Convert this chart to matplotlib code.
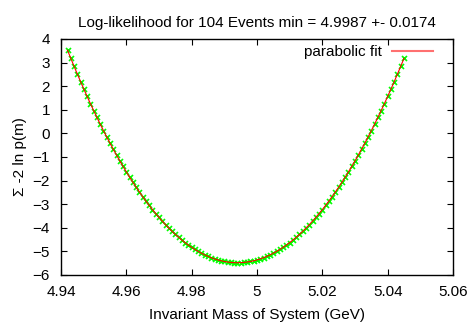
import matplotlib
matplotlib.use("Agg")
import matplotlib.pyplot as plt

mass = [round(4.942 + 0.001 * i, 3) for i in range(104)]
loglik = [3.524, 3.181, 2.845, 2.515, 2.192, 1.876, 1.566, 1.263, 0.967, 0.677,
          0.394, 0.118, -0.152, -0.415, -0.672, -0.921, -1.164, -1.401, -1.630, -1.854,
          -2.070, -2.280, -2.483, -2.679, -2.869, -3.052, -3.229, -3.399, -3.562, -3.718,
          -3.868, -4.011, -4.148, -4.278, -4.401, -4.518, -4.628, -4.731, -4.827, -4.917,
          -5.000, -5.077, -5.147, -5.210, -5.267, -5.317, -5.360, -5.397, -5.427, -5.450,
          -5.467, -5.477, -5.480,
          -5.477, -5.467, -5.450, -5.427, -5.397, -5.360, -5.317, -5.267, -5.210, -5.147,
          -5.077, -5.000, -4.917, -4.827, -4.731, -4.628, -4.518, -4.401, -4.278, -4.148,
          -4.011, -3.868, -3.718, -3.562, -3.399, -3.229, -3.052, -2.869, -2.679, -2.483,
          -2.280, -2.070, -1.854, -1.630, -1.401, -1.164, -0.921, -0.672, -0.415, -0.152,
          0.118, 0.394, 0.677, 0.967, 1.263, 1.566, 1.876, 2.192, 2.515, 2.845, 3.181]
xticks = [4.94, 4.96, 4.98, 5.0, 5.02, 5.04, 5.06]
xticklabels = ["4.94", "4.96", "4.98", "5", "5.02", "5.04", "5.06"]
yticks = [-6, -5, -4, -3, -2, -1, 0, 1, 2, 3, 4]

plt.rcParams['font.family'] = ['Liberation Sans', 'DejaVu Sans']
plt.rcParams['font.size'] = 11

fig = plt.figure(figsize=(4.73, 3.23), dpi=100)
ax = fig.add_axes([61/473, 48/323, 392/473, 236/323])

ax.plot(mass, loglik, linestyle='none', marker='x', color='#00ff00',
        markersize=3.6, markeredgewidth=1.2, zorder=2)
ax.plot(mass, loglik, color='#ff0000', linewidth=0.8, label='parabolic fit', zorder=3)

ax.set_xlim(4.94, 5.06)
ax.set_ylim(-6, 4)
ax.set_xticks(xticks)
ax.set_xticklabels(xticklabels)
ax.set_yticks(yticks)
ax.tick_params(axis='both', direction='in', top=True, right=True, length=4, width=0.8,
               labelsize=11)
ax.tick_params(axis='x', pad=7)
ax.tick_params(axis='y', pad=8)
for s in ax.spines.values():
    s.set_linewidth(1.0)

ax.set_title("Log-likelihood for 104 Events min = 4.9987 +- 0.0174", fontsize=11, pad=9)
ax.set_xlabel("Invariant Mass of System (GeV)", fontsize=11, labelpad=7)
ax.set_ylabel("Σ -2 ln p(m)", fontsize=11, labelpad=4)

leg = ax.legend(loc='upper right', frameon=False, markerfirst=False, handlelength=2.7,
                fontsize=11, borderaxespad=0.0, handletextpad=0.65,
                bbox_to_anchor=(1 - 14/392, 1.0))
for h in leg.get_lines():
    h.set_linewidth(1.5)
    h.set_color('#ff7070')

fig.savefig("out.png", dpi=100)
